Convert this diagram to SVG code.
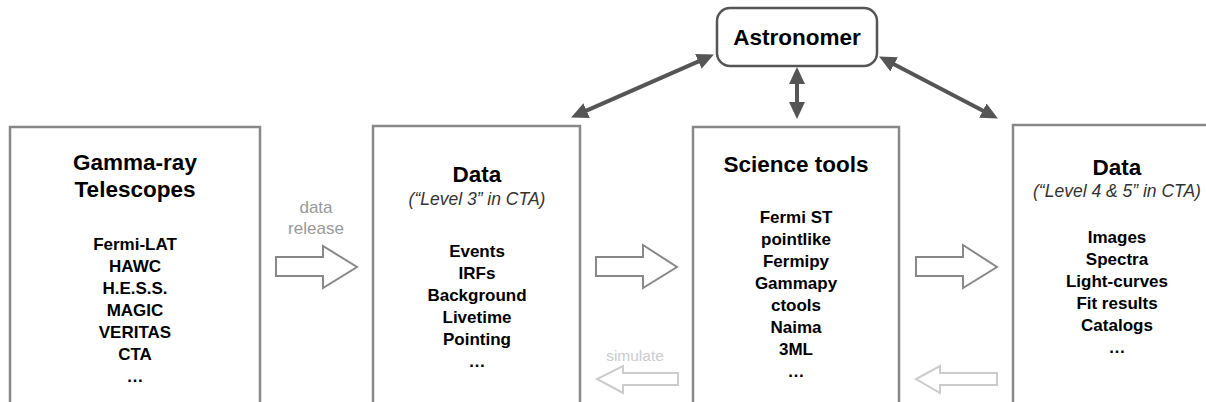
<svg xmlns="http://www.w3.org/2000/svg" width="1206" height="402" viewBox="0 0 1206 402">
<style>
.box{fill:#fff;stroke:#888;stroke-width:2.5}
.astro{fill:#fff;stroke:#555;stroke-width:2.5}
.title{font-family:"Liberation Sans",Arial,sans-serif;font-weight:bold;font-size:22.5px;fill:#000;text-anchor:middle}
.item{font-family:"Liberation Sans",Arial,sans-serif;font-weight:bold;font-size:17px;fill:#000;text-anchor:middle}
.sub{font-family:"Liberation Sans",Arial,sans-serif;font-style:italic;font-size:17.5px;fill:#333;text-anchor:middle}
.lbl{font-family:"Liberation Sans",Arial,sans-serif;font-size:17px;fill:#999;text-anchor:middle}
.lbl2{font-family:"Liberation Sans",Arial,sans-serif;font-size:15.5px;fill:#ccc;text-anchor:middle}
.hollow{fill:#fff;stroke:#888;stroke-width:2}
.faint{fill:#fff;stroke:#ccc;stroke-width:2}
.dbl{stroke:#555;stroke-width:4;fill:none;marker-start:url(#head);marker-end:url(#head)}
</style>
<defs>
<marker id="head" markerUnits="userSpaceOnUse" markerWidth="17" markerHeight="17" refX="4" refY="8" orient="auto-start-reverse" viewBox="0 0 17 16">
<path d="M0,0 L17,8 L0,16 z" fill="#555"/>
</marker>
</defs>
<rect width="1206" height="402" fill="#fff"/>

<g id="telescopes">
<rect class="box" x="10" y="127" width="250" height="300"/>
<text class="title" x="135" y="170">Gamma-ray</text>
<text class="title" x="135" y="197">Telescopes</text>
<text class="item" x="135" y="250">Fermi-LAT</text>
<text class="item" x="135" y="272">HAWC</text>
<text class="item" x="135" y="294">H.E.S.S.</text>
<text class="item" x="135" y="316">MAGIC</text>
<text class="item" x="135" y="338">VERITAS</text>
<text class="item" x="135" y="360">CTA</text>
<text class="item" x="135" y="382">…</text>
</g>

<g id="data3">
<rect class="box" x="373" y="126" width="207" height="300"/>
<text class="title" x="477" y="182">Data</text>
<text class="sub" x="477" y="205">(“Level 3” in CTA)</text>
<text class="item" x="477" y="257">Events</text>
<text class="item" x="477" y="279">IRFs</text>
<text class="item" x="477" y="301">Background</text>
<text class="item" x="477" y="323">Livetime</text>
<text class="item" x="477" y="345">Pointing</text>
<text class="item" x="477" y="367">…</text>
</g>

<g id="sciencetools">
<rect class="box" x="693" y="127" width="206" height="300"/>
<text class="title" x="796" y="172">Science tools</text>
<text class="item" x="796" y="223">Fermi ST</text>
<text class="item" x="796" y="245">pointlike</text>
<text class="item" x="796" y="267">Fermipy</text>
<text class="item" x="796" y="289">Gammapy</text>
<text class="item" x="796" y="311">ctools</text>
<text class="item" x="796" y="333">Naima</text>
<text class="item" x="796" y="355">3ML</text>
<text class="item" x="796" y="377">…</text>
</g>

<g id="data45">
<rect class="box" x="1013" y="125" width="220" height="300"/>
<text class="title" x="1117" y="175">Data</text>
<text class="sub" x="1117" y="197">(“Level 4 &amp; 5” in CTA)</text>
<text class="item" x="1117" y="243">Images</text>
<text class="item" x="1117" y="265">Spectra</text>
<text class="item" x="1117" y="287">Light-curves</text>
<text class="item" x="1117" y="309">Fit results</text>
<text class="item" x="1117" y="331">Catalogs</text>
<text class="item" x="1117" y="353">…</text>
</g>

<g id="astronomer">
<rect class="astro" x="717" y="8" width="160" height="58" rx="13"/>
<text class="title" x="797" y="45">Astronomer</text>
</g>

<g id="connectors">
<polygon class="hollow" points="276,257 323,257 323,246 357,267 323,288 323,276 276,276"/>
<text class="lbl" x="316" y="213">data</text>
<text class="lbl" x="316" y="234">release</text>
<polygon class="hollow" points="596,257 643,257 643,245 677,267 643,288 643,276 596,276"/>
<polygon class="hollow" points="916,257 963,257 963,245 997,267 963,288 963,276 916,276"/>
<polygon class="faint" points="678,373 623,373 623,366 597,379 623,393 623,385 678,385"/>
<text class="lbl2" x="635" y="361">simulate</text>
<polygon class="faint" points="997,373 940,373 940,366 916,379 940,393 940,385 997,385"/>
<line class="dbl" x1="583" y1="112.2" x2="702" y2="59.8"/>
<line class="dbl" x1="797" y1="80" x2="797" y2="106"/>
<line class="dbl" x1="890.6" y1="62.5" x2="986.4" y2="112.5"/>
</g>
</svg>
